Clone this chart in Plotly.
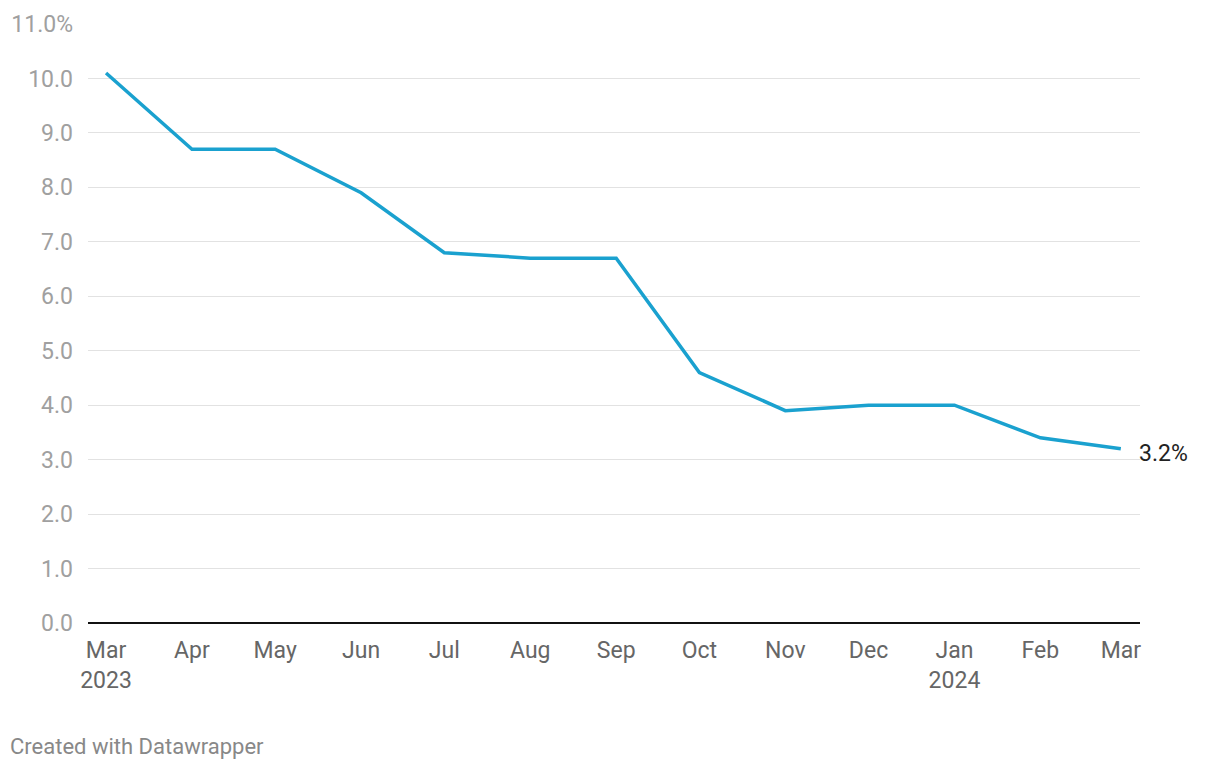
import plotly.graph_objects as go

dates = ["2023-03-01", "2023-04-01", "2023-05-01", "2023-06-01", "2023-07-01", "2023-08-01",
         "2023-09-01", "2023-10-01", "2023-11-01", "2023-12-01", "2024-01-01", "2024-02-01",
         "2024-03-01"]
values = [10.1, 8.7, 8.7, 7.9, 6.8, 6.7, 6.7, 4.6, 3.9, 4.0, 4.0, 3.4, 3.2]
x_tick_text = ["Mar<br>2023", "Apr", "May", "Jun", "Jul", "Aug", "Sep", "Oct", "Nov", "Dec",
               "Jan<br>2024", "Feb", "Mar"]
y_tick_vals = list(range(0, 12))
y_tick_text = ["0.0", "1.0", "2.0", "3.0", "4.0", "5.0", "6.0", "7.0", "8.0", "9.0", "10.0", "11.0%"]

fig = go.Figure()
fig.add_trace(go.Scatter(
    x=dates, y=values, mode="lines",
    line=dict(color="#1aa1cf", width=3.5),
    hoverinfo="skip", showlegend=False,
))

fig.add_annotation(
    x=dates[-1], y=values[-1], text=f"{values[-1]:.1f}%",
    showarrow=False, xanchor="left", yanchor="middle", xshift=16, yshift=-5,
    font=dict(family="Roboto", size=23, color="#222222"),
)

fig.add_annotation(
    x=(8 - 88) / 1052, y=-(746 - 623) / 599, xref="paper", yref="paper",
    xanchor="left", yanchor="middle", showarrow=False,
    text="Created with Datawrapper",
    font=dict(family="Roboto", size=22, color="#888888"),
)

fig.update_layout(
    width=1220, height=770,
    margin=dict(l=88, r=80, t=24, b=147),
    paper_bgcolor="white", plot_bgcolor="white",
    font=dict(family="Roboto", size=23, color="#666666"),
    xaxis=dict(
        type="date",
        range=["2023-02-22 12:00", "2024-03-07 22:00"],
        tickvals=dates, ticktext=x_tick_text,
        showgrid=False, zeroline=False, showline=False,
        ticks="", ticklabelstandoff=11,
        tickfont=dict(family="Roboto", size=23, color="#666666"),
    ),
    yaxis=dict(
        range=[0, 11], tickvals=y_tick_vals, ticktext=y_tick_text,
        showgrid=True, gridcolor="#e2e2e2", gridwidth=1,
        zeroline=True, zerolinecolor="#111111", zerolinewidth=2,
        showline=False, ticks="", ticklabelstandoff=14,
        tickfont=dict(family="Roboto", size=23, color="#a0a0a0"),
    ),
)

fig.write_html("out.html")
